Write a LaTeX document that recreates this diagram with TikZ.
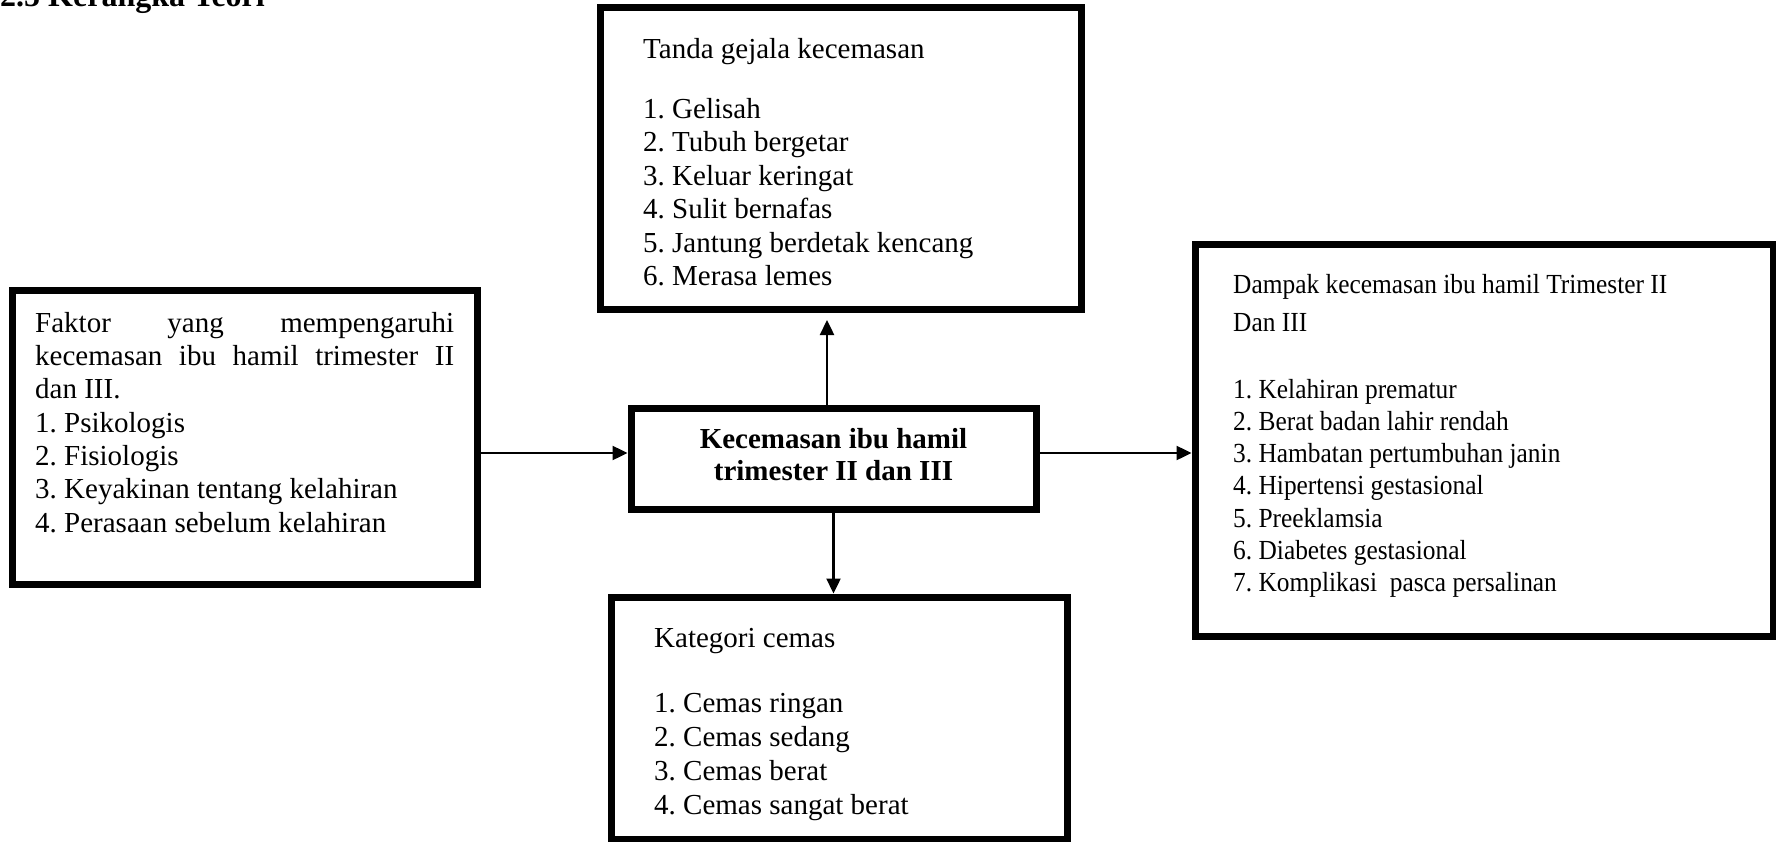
\documentclass[tikz,border=0pt]{standalone}
\usepackage{fontspec}
\setmainfont{Liberation Serif}
\newfontfamily\narrowserif[FakeStretch=0.92]{Liberation Serif}
\usetikzlibrary{arrows.meta}
\frenchspacing

\begin{document}
\begin{tikzpicture}[x=1pt,y=-1pt,
  box/.style={draw, line width=7pt, inner sep=0pt, anchor=center},
  txt/.style={anchor=north west, inner sep=0pt, align=left},
  conn/.style={line width=2.4pt, -{Triangle[length=15pt,width=14pt]}},
]
\useasboundingbox (0,0) rectangle (1776,842);

% heading
\node[anchor=base west, inner sep=0pt, font=\bfseries\fontsize{32}{36}\selectfont] (h) at (0,7) {2.5 Kerangka Teori};

% boxes
\node[box, minimum width=465pt, minimum height=294pt] (l) at (244.5,437) {};
\node[box, minimum width=481pt, minimum height=301pt] (t) at (840.5,158.5) {};
\node[box, minimum width=405pt, minimum height=101pt] (c) at (833.5,458.5) {};
\node[box, minimum width=578pt, minimum height=391pt] (r) at (1484,440.5) {};
\node[box, minimum width=456pt, minimum height=242pt] (b) at (839,718) {};

% texts
\node[txt, font=\fontsize{29}{33.3}\selectfont] (lt) at (35,308.7) {%
\strut\makebox[419pt][s]{Faktor yang mempengaruhi}\\
\makebox[419pt][s]{kecemasan ibu hamil trimester II}\\
dan III.\\
1. Psikologis\\
2. Fisiologis\\
3. Keyakinan tentang kelahiran\\
4. Perasaan sebelum kelahiran};

\node[txt, font=\fontsize{29}{33.5}\selectfont] (tt) at (643,34.55) {%
\strut Tanda gejala kecemasan\\[26.5pt]
1. Gelisah\\
2. Tubuh bergetar\\
3. Keluar keringat\\
4. Sulit bernafas\\
5. Jantung berdetak kencang\\
6. Merasa lemes};

\node[anchor=north, inner sep=0pt, align=center, font=\bfseries\fontsize{29}{32}\selectfont] (ct) at (833.5,425.6) {%
\strut Kecemasan ibu hamil\\
trimester II dan III};

\node[txt, font=\narrowserif\fontsize{27.6}{32.2}\selectfont] (rt) at (1233,270.46) {%
\strut Dampak kecemasan ibu hamil Trimester II\\[6.5pt]
Dan III\\[34.1pt]
1. Kelahiran prematur\\
2. Berat badan lahir rendah\\
3. Hambatan pertumbuhan janin\\
4. Hipertensi gestasional\\
5. Preeklamsia\\
6. Diabetes gestasional\\
7. Komplikasi\ \ pasca persalinan};

\node[txt, font=\fontsize{29}{34}\selectfont] (bt) at (654,623.2) {%
\strut Kategori cemas\\[31pt]
1. Cemas ringan\\
2. Cemas sedang\\
3. Cemas berat\\
4. Cemas sangat berat};

% connectors
\coordinate (ay) at (0,453);
\coordinate (uptip) at (827,320);
\draw[conn] (l.east |- ay) -- (c.west |- ay);
\draw[conn] (c.east |- ay) -- (r.west |- ay);
\draw[conn] (c.north -| uptip) -- (uptip);
\draw[conn] (c.south) -- (c.south |- b.north);
\end{tikzpicture}
\end{document}
